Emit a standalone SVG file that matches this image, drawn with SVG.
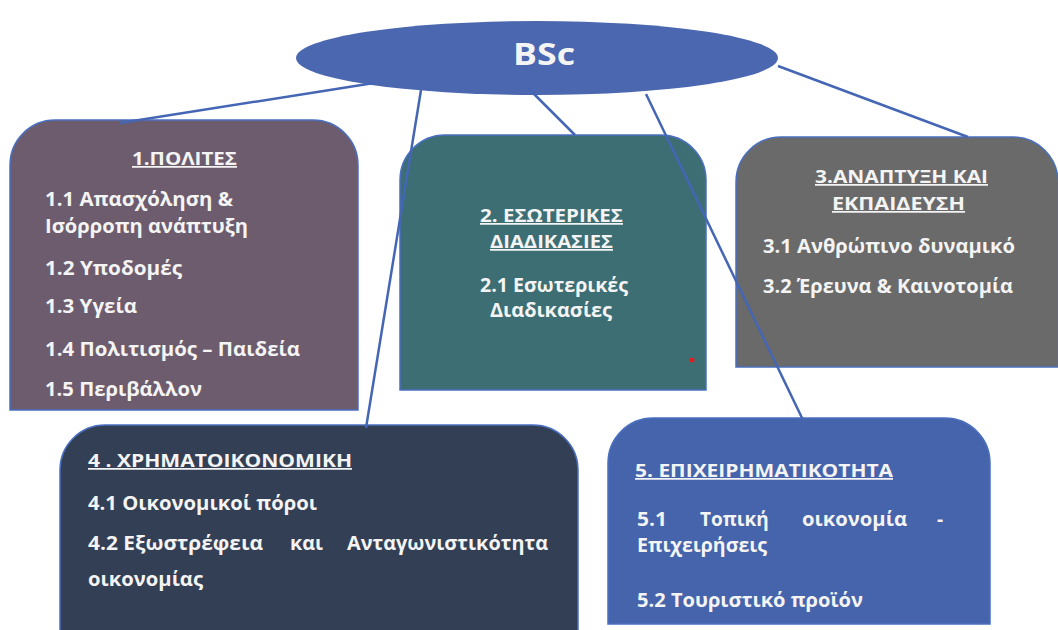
<svg xmlns="http://www.w3.org/2000/svg" width="1058" height="630" viewBox="0 0 1058 630">
<style>
.box{stroke:#4a6fc0;stroke-width:1.5}
.t{font-family:"Open Sans","Noto Sans","DejaVu Sans",sans-serif;font-weight:bold;font-size:19px;fill:#f4f4f4}
.h{text-decoration:underline;font-size:17.5px}
.c{text-anchor:middle}
.e{text-anchor:end}
.ln{stroke:#4466b4;stroke-width:2.5;fill:none}
</style>
<rect width="1058" height="630" fill="#ffffff"/>
<g id="node-bsc">
<ellipse cx="537" cy="58" rx="241" ry="37" fill="#4a67b0"/>
<text x="513" y="65" class="t" style="font-size:31px" textLength="62" lengthAdjust="spacingAndGlyphs">BSc</text>
</g>
<g id="node-1">
<path class="box" d="M10,410 V165 A45,45 0 0 1 55,120 H313 A45,45 0 0 1 358,165 V410 Z" fill="#6d5c6d"/>
<text x="132" y="165" class="t h" textLength="105" lengthAdjust="spacingAndGlyphs">1.ΠΟΛΙΤΕΣ</text>
<text x="45" y="206" class="t" textLength="188" lengthAdjust="spacingAndGlyphs">1.1 Απασχόληση &amp;</text>
<text x="45" y="233" class="t" textLength="203" lengthAdjust="spacingAndGlyphs">Ισόρροπη ανάπτυξη</text>
<text x="45" y="275" class="t" textLength="137" lengthAdjust="spacingAndGlyphs">1.2 Υποδομές</text>
<text x="45" y="313" class="t" textLength="92" lengthAdjust="spacingAndGlyphs">1.3 Υγεία</text>
<text x="45" y="356" class="t" textLength="255" lengthAdjust="spacingAndGlyphs">1.4 Πολιτισμός – Παιδεία</text>
<text x="45" y="396" class="t" textLength="157" lengthAdjust="spacingAndGlyphs">1.5 Περιβάλλον</text>
</g>
<g id="node-2">
<path class="box" d="M400,390 V180 A45,45 0 0 1 445,135 H661 A45,45 0 0 1 706,180 V390 Z" fill="#3c6e74"/>
<circle cx="692" cy="360" r="2.5" fill="#e02020"/>
<text x="480" y="222" class="t h" textLength="143" lengthAdjust="spacingAndGlyphs">2. ΕΣΩΤΕΡΙΚΕΣ</text>
<text x="490" y="248" class="t h" textLength="123" lengthAdjust="spacingAndGlyphs">ΔΙΑΔΙΚΑΣΙΕΣ</text>
<text x="480" y="292" class="t" textLength="148" lengthAdjust="spacingAndGlyphs">2.1 Εσωτερικές</text>
<text x="490" y="317" class="t" textLength="122" lengthAdjust="spacingAndGlyphs">Διαδικασίες</text>
</g>
<g id="node-3">
<path class="box" d="M736,367 V182 A45,45 0 0 1 781,137 H1013 A45,45 0 0 1 1058,182 V367 Z" fill="#6a6a6a"/>
<text x="815" y="183" class="t h" textLength="173" lengthAdjust="spacingAndGlyphs">3.ΑΝΑΠΤΥΞΗ ΚΑΙ</text>
<text x="832" y="210" class="t h" textLength="133" lengthAdjust="spacingAndGlyphs">ΕΚΠΑΙΔΕΥΣΗ</text>
<text x="763" y="253" class="t" textLength="252" lengthAdjust="spacingAndGlyphs">3.1 Ανθρώπινο δυναμικό</text>
<text x="763" y="293" class="t" textLength="250" lengthAdjust="spacingAndGlyphs">3.2 Έρευνα &amp; Καινοτομία</text>
</g>
<g id="node-4">
<path class="box" d="M60,632 V470 A45,45 0 0 1 105,425 H533 A45,45 0 0 1 578,470 V632 Z" fill="#333f54"/>
<text x="88" y="467" class="t h" textLength="264" lengthAdjust="spacingAndGlyphs">4 . ΧΡΗΜΑΤΟΙΚΟΝΟΜΙΚΗ</text>
<text x="88" y="510" class="t" textLength="229" lengthAdjust="spacingAndGlyphs">4.1 Οικονομικοί πόροι</text>
<text x="88" y="550" class="t" textLength="175" lengthAdjust="spacingAndGlyphs">4.2 Εξωστρέφεια</text>
<text x="290" y="550" class="t" textLength="33" lengthAdjust="spacingAndGlyphs">και</text>
<text x="347" y="550" class="t" textLength="201" lengthAdjust="spacingAndGlyphs">Ανταγωνιστικότητα</text>
<text x="88" y="586" class="t" textLength="115" lengthAdjust="spacingAndGlyphs">οικονομίας</text>
</g>
<g id="node-5">
<path class="box" d="M608,624 V463 A45,45 0 0 1 653,418 H945 A45,45 0 0 1 990,463 V624 Z" fill="#4664ab"/>
<text x="635" y="477" class="t h" textLength="258" lengthAdjust="spacingAndGlyphs">5. ΕΠΙΧΕΙΡΗΜΑΤΙΚΟΤΗΤΑ</text>
<text x="637" y="526" class="t" textLength="30" lengthAdjust="spacingAndGlyphs">5.1</text>
<text x="700" y="526" class="t">Τοπική</text>
<text x="802" y="526" class="t" textLength="105" lengthAdjust="spacingAndGlyphs">οικονομία</text>
<text x="937" y="526" class="t">-</text>
<text x="637" y="552" class="t" textLength="130" lengthAdjust="spacingAndGlyphs">Επιχειρήσεις</text>
<text x="637" y="607" class="t" textLength="226" lengthAdjust="spacingAndGlyphs">5.2 Τουριστικό προϊόν</text>
</g>
<g id="connectors">
<line class="ln" x1="374" y1="83" x2="120" y2="123"/>
<line class="ln" x1="421" y1="90" x2="366" y2="428"/>
<line class="ln" x1="528" y1="88" x2="575" y2="135"/>
<line class="ln" x1="646" y1="94" x2="803" y2="420"/>
<line class="ln" x1="778" y1="66" x2="968" y2="137"/>
</g>
</svg>
